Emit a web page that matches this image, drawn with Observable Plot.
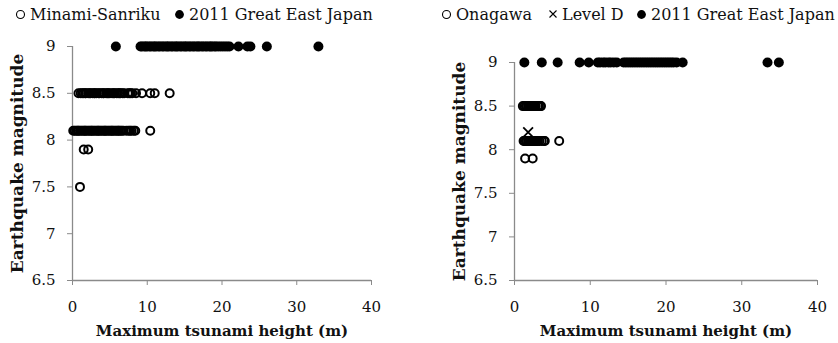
<!DOCTYPE html>
<html>
<head>
<meta charset="utf-8">
<script src="https://cdn.jsdelivr.net/npm/d3@7"></script>
<script src="https://cdn.jsdelivr.net/npm/@observablehq/plot@0.6"></script>
<style>
  body { margin: 0; background: #fff; }
  #wrap { position: relative; width: 838px; height: 343px; overflow: hidden; font-family: "DejaVu Serif", serif; color: #111; }
  .legend { position: absolute; top: 4px; font-size: 16px; white-space: nowrap; }
  .item { position: absolute; top: 0; display: flex; align-items: center; height: 20px; }
  .item svg { margin-right: 4px; }
  .panel { position: absolute; top: 30px; }
</style>
</head>
<body>
<div id="wrap">
  <div class="legend" id="legL" style="left:0;width:420px;height:24px"></div>
  <div class="legend" id="legR" style="left:420px;width:418px;height:24px"></div>
  <div class="panel" id="left" style="left:0"></div>
  <div class="panel" id="right" style="left:420px"></div>
</div>
<script>
// ---- data (maximum tsunami height in m, earthquake magnitude) ----
const xTicks = [0, 10, 20, 30, 40];
const yTicks = [6.5, 7, 7.5, 8, 8.5, 9];
const xLabel = "Maximum tsunami height (m)";
const yLabel = "Earthquake magnitude";

// Left panel: Minami-Sanriku scenarios (open circles) by magnitude
const minamiM85 = [0.8, 1.1, 1.3, 1.5, 1.7, 1.8, 2.1, 2.3, 2.4, 2.7, 2.9, 3.0, 3.2, 3.5, 3.6, 3.9, 4.1, 4.2, 4.5, 4.7, 4.8, 5.0, 5.3, 5.5, 5.6, 5.9, 6.1, 6.3, 6.4, 6.7, 6.9, 7.4, 7.6, 7.8, 8.0, 8.5, 9.3, 10.4, 11.0, 13.0];
const minamiM81 = [0.1, 0.3, 0.5, 0.7, 0.8, 1.0, 1.2, 1.4, 1.6, 1.7, 1.9, 2.1, 2.3, 2.5, 2.6, 2.8, 3.0, 3.2, 3.4, 3.5, 3.7, 3.9, 4.1, 4.3, 4.4, 4.6, 4.8, 5.0, 5.2, 5.3, 5.5, 5.7, 5.9, 6.1, 6.2, 6.4, 6.6, 6.8, 7.2, 7.5, 7.7, 7.9, 8.2, 8.4, 10.4];
const minamiM79 = [1.5, 2.1];
const minamiM75 = [1.0];
// Left panel: 2011 Great East Japan (M9, filled)
const greatEastLeft = [5.8, 9.1, 9.3, 9.6, 9.8, 10.0, 10.3, 10.5, 10.8, 11.0, 11.2, 11.5, 11.7, 12.0, 12.2, 12.5, 12.7, 12.9, 13.2, 13.4, 13.7, 13.9, 14.1, 14.4, 14.6, 14.9, 15.1, 15.3, 15.6, 15.8, 16.1, 16.3, 16.6, 16.8, 17.0, 17.3, 17.5, 17.8, 18.0, 18.3, 18.5, 18.7, 19.0, 19.2, 19.5, 19.8, 20.1, 20.4, 20.7, 21.0, 22.2, 23.4, 23.8, 26.0, 32.9];

// Right panel: Onagawa scenarios (open circles)
const onagawaM85 = [1.1, 1.3, 1.5, 1.6, 1.8, 1.9, 2.1, 2.2, 2.4, 2.5, 2.7, 2.8, 3.1, 3.2, 3.4, 3.5];
const onagawaM81 = [1.2, 1.3, 1.5, 1.6, 1.8, 1.9, 2.1, 2.2, 2.4, 2.5, 2.7, 2.8, 3.0, 3.1, 3.3, 3.6, 3.9, 4.0, 5.9];
const onagawaM79 = [1.4, 2.4];
// Right panel: Level D (cross)
const levelDHeight = [1.8];
const levelDMag = [8.2];
// Right panel: 2011 Great East Japan (M9, filled)
const greatEastRight = [1.3, 3.6, 5.7, 8.6, 9.8, 11.0, 11.3, 11.7, 12.0, 12.4, 12.7, 13.1, 13.5, 14.4, 14.7, 15.0, 15.3, 15.6, 15.9, 16.2, 16.5, 16.8, 17.1, 17.4, 17.7, 18.0, 18.3, 18.6, 18.9, 19.2, 19.5, 19.8, 20.1, 20.4, 20.7, 21.0, 21.4, 22.2, 33.4, 34.9];

const rows = (hs, m) => hs.map(h => ({h, m}));

const axisColor = "#8a8a8a";
const fontFam = "DejaVu Serif, serif";

function panel({width, height, marginLeft, marginRight, marginTop, marginBottom, open, filled, crosses}) {
  return Plot.plot({
    width, height, marginLeft, marginRight, marginTop, marginBottom,
    style: {fontFamily: fontFam, fontSize: "15px", color: "#111", background: "transparent", overflow: "visible"},
    x: {domain: [0, 40]},
    y: {domain: [6.5, 9]},
    marks: [
      Plot.ruleX([0], {stroke: axisColor, strokeWidth: 1.3}),
      Plot.ruleY([6.5], {stroke: axisColor, strokeWidth: 1.3}),
      Plot.axisX({ticks: xTicks, tickSize: 5, tickPadding: 16, tickFormat: d => String(d), stroke: axisColor, label: null, fill: "#111"}),
      Plot.axisY({ticks: yTicks, tickSize: 5, tickPadding: 12, tickFormat: d => String(d), stroke: axisColor, label: null, fill: "#111"}),
      Plot.text([xLabel], {frameAnchor: "bottom", dy: 55, fontWeight: "bold", fontSize: 15, fill: "#111"}),
      Plot.text([yLabel], {frameAnchor: "left", textAnchor: "middle", rotate: -90, dx: -55, fontWeight: "bold", fontSize: 17, fill: "#111"}),
      Plot.dot(filled, {x: "h", y: "m", r: 5, fill: "#000", stroke: "none"}),
      Plot.dot(open, {x: "h", y: "m", r: 4, fill: "none", stroke: "#000", strokeWidth: 2}),
      ...(crosses ? [Plot.dot(crosses, {x: "h", y: "m", symbol: "times", r: 4.5, stroke: "#000", strokeWidth: 1.8})] : [])
    ]
  });
}

const leftOpen = [...rows(minamiM85, 8.5), ...rows(minamiM81, 8.1), ...rows(minamiM79, 7.9), ...rows(minamiM75, 7.5)];
const rightOpen = [...rows(onagawaM85, 8.5), ...rows(onagawaM81, 8.1), ...rows(onagawaM79, 7.9)];
const rightCross = levelDHeight.map((h, i) => ({h, m: levelDMag[i]}));

document.getElementById("left").append(panel({
  width: 420, height: 313, marginLeft: 72, marginRight: 49, marginTop: 16, marginBottom: 63,
  open: leftOpen, filled: rows(greatEastLeft, 9)
}));
document.getElementById("right").append(panel({
  width: 418, height: 313, marginLeft: 94, marginRight: 21, marginTop: 32, marginBottom: 63,
  open: rightOpen, filled: rows(greatEastRight, 9), crosses: rightCross
}));

// ---- legends ----
const sym = {
  open: '<svg width="11" height="11"><circle cx="5.5" cy="5.5" r="4" fill="none" stroke="#000" stroke-width="1.1"/></svg>',
  filled: '<svg width="11" height="11"><circle cx="5.5" cy="5.5" r="4.4" fill="#000"/></svg>',
  cross: '<svg width="10" height="10"><path d="M1.5 1.5L8.5 8.5M8.5 1.5L1.5 8.5" stroke="#000" stroke-width="1.1"/></svg>'
};
function legend(id, items) {
  const el = document.getElementById(id);
  for (const [x, s, label] of items) {
    const d = document.createElement("div");
    d.className = "item";
    d.style.left = x + "px";
    d.innerHTML = sym[s];
    const t = document.createElement("span");
    t.textContent = label;
    d.append(t);
    el.append(d);
  }
}
legend("legL", [[15, "open", "Minami-Sanriku"], [174, "filled", "2011 Great East Japan"]]);
legend("legR", [[21, "open", "Onagawa"], [128, "cross", "Level D"], [216, "filled", "2011 Great East Japan"]]);
</script>
</body>
</html>
